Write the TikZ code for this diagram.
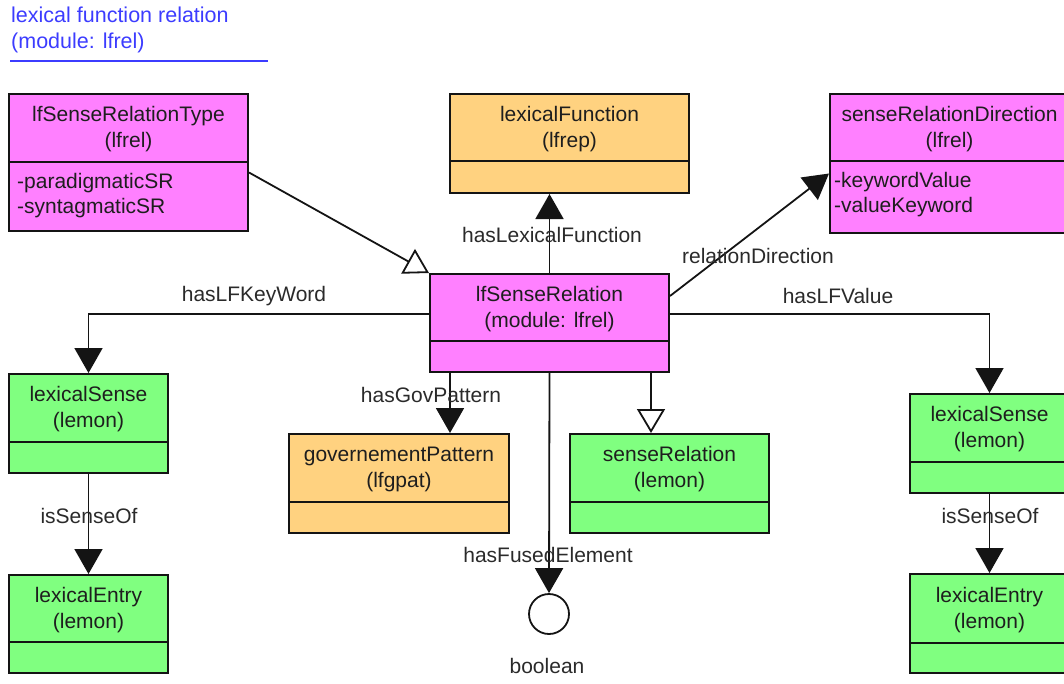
\documentclass[tikz,border=0pt]{standalone}
\usepackage{fontspec}
\setmainfont{Liberation Sans}
\usetikzlibrary{arrows.meta,calc}
\definecolor{cmag}{HTML}{FF80FF}
\definecolor{corg}{HTML}{FFD280}
\definecolor{cgrn}{HTML}{80FF80}
\definecolor{ctitle}{HTML}{3C3CFF}
\definecolor{ctxt}{HTML}{1E1E1E}
\definecolor{clbl}{HTML}{2A2A2A}
\definecolor{cline}{HTML}{141414}
\tikzset{
  clsbox/.style={draw=cline, line width=2pt, rectangle, inner sep=0pt},
  clsline/.style={draw=cline, line width=2pt},
  clstxt/.style={font=\fontsize{21}{26}\selectfont, text=ctxt, align=center, inner sep=0pt},
  attrtxt/.style={font=\fontsize{21}{25}\selectfont, text=ctxt, align=left, inner sep=0pt, anchor=north west},
  lbl/.style={font=\fontsize{21}{26}\selectfont, text=clbl, inner sep=0pt},
  conn/.style={draw=cline, line width=1.8pt},
  assoc/.style={conn, -{Triangle[width=28pt,length=25pt]}},
  gener/.style={conn, -{Triangle[width=28pt,length=24pt,fill=white]}},
}
\newcommand{\umlcls}[8]{%
  \node[clsbox, fill=#7, minimum width=#4pt, minimum height=#5pt, anchor=north west] (#1) at (#2,#3) {};
  \draw[clsline] ([yshift=-#6pt]#1.north west) -- ([yshift=-#6pt]#1.north east);
  \node[clstxt] at ([yshift={-0.5*#6pt-2pt}]#1.north) {#8};
}
\begin{document}
\begin{tikzpicture}[x=1pt,y=-1pt]
\useasboundingbox (0,0) rectangle (1064,683);
% title
\node[font=\fontsize{21.5}{26}\selectfont, text=ctitle, align=left, inner sep=0pt, anchor=north west] (title) at (11,7) {lexical function relation\\(module: lfrel)};
\coordinate (tl1) at (10,61);
\coordinate (tl2) at (268,61);
\draw[ctitle, line width=2pt] (tl1) -- (tl2);
% classes
\umlcls{lfsrt}{8}{93}{239}{137}{69}{cmag}{lfSenseRelationType\\(lfrel)}
\node[attrtxt] (lfsrtattr) at (17,173) {-paradigmaticSR\\-syntagmaticSR};
\umlcls{lexf}{449}{93}{239}{99}{68}{corg}{lexicalFunction\\(lfrep)}
\umlcls{srd}{829}{93}{239}{139}{68}{cmag}{senseRelationDirection\\(lfrel)}
\node[attrtxt] (srdattr) at (834,172) {-keywordValue\\-valueKeyword};
\umlcls{lfsr}{429}{273}{239}{98}{68}{cmag}{lfSenseRelation\\(module: lfrel)}
\umlcls{lsL}{8}{373}{159}{99}{69}{cgrn}{lexicalSense\\(lemon)}
\umlcls{leL}{8}{574}{159}{98}{68}{cgrn}{lexicalEntry\\(lemon)}
\umlcls{gp}{288}{433}{220}{99}{69}{corg}{governementPattern\\(lfgpat)}
\umlcls{sr}{569}{433}{199}{99}{69}{cgrn}{senseRelation\\(lemon)}
\umlcls{lsR}{909}{393}{159}{99}{69}{cgrn}{lexicalSense\\(lemon)}
\umlcls{leR}{909}{573}{159}{99}{70}{cgrn}{lexicalEntry\\(lemon)}
% boolean
\node[circle, draw=cline, line width=1.8pt, fill=white, minimum size=40pt, inner sep=0pt] (bool) at (549,614) {};
\node[lbl] (booltxt) at (547,666) {boolean};
% connectors
\draw[gener] ([yshift=-10pt]lfsrt.east) -- (lfsr.north west);
\draw[assoc] (lfsr.north) -- (lfsr.north |- lexf.south);
\draw[assoc] ([yshift=27pt]lfsr.east) -- ([yshift=-10pt]srd.west);
\draw[assoc] ([yshift=9pt]lfsr.west) -| (lsL.north);
\draw[assoc] ([yshift=9pt]lfsr.east) -| (lsR.north);
\draw[assoc] ([xshift=21pt]lfsr.south west) -- ([xshift=21pt]lfsr.south west |- gp.north);
\draw[assoc] (lfsr.south) -- (bool.north);
\draw[gener] ([xshift=-19pt]lfsr.south east) -- ([xshift=-19pt]lfsr.south east |- sr.north);
\draw[assoc] (lsL.south) -- (leL.north);
\draw[assoc] (lsR.south) -- (leR.north);
% labels
\node[lbl] (l1) at (552,235) {hasLexicalFunction};
\node[lbl] (l2) at (758,256) {relationDirection};
\node[lbl] (l3) at (254,296) {hasLFKeyWord};
\node[lbl] (l4) at (838,296) {hasLFValue};
\node[lbl] (l5) at (431,395) {hasGovPattern};
\node[lbl] (l6) at (548,555) {hasFusedElement};
\node[lbl] (l7) at (89,516) {isSenseOf};
\node[lbl] (l8) at (990,516) {isSenseOf};
\end{tikzpicture}
\end{document}
